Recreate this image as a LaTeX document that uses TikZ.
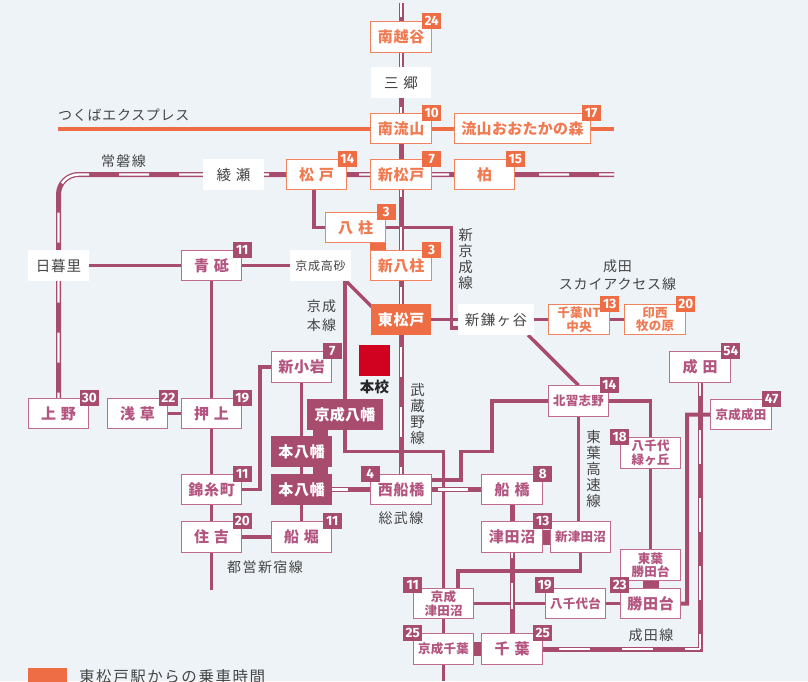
\documentclass[tikz,border=0pt]{standalone}
\usepackage{fontspec}
\setmainfont{Noto Sans CJK JP}
\newfontfamily\jpr[LetterSpace=6]{Noto Sans CJK JP}
\newfontfamily\jpl[LetterSpace=10]{Noto Sans CJK JP}
\newfontfamily\jpk[LetterSpace=5]{Noto Sans CJK JP}
\newfontfamily\jpb[LetterSpace=2]{Noto Sans CJK JP}
\newfontfamily\jpm[LetterSpace=5]{Noto Sans CJK JP}
\newfontfamily\numf{Fira Sans}
\definecolor{bgc}{HTML}{EEF3F8}
\definecolor{mag}{HTML}{A84C6E}
\definecolor{magb}{HTML}{BF6A8E}
\definecolor{magt}{HTML}{B35580}
\definecolor{org}{HTML}{EF6D45}
\definecolor{orgb}{HTML}{F2835F}
\definecolor{orgt}{HTML}{F07B52}
\definecolor{lab}{HTML}{454545}
\definecolor{school}{HTML}{D0021F}
\pgfdeclarelayer{bg}\pgfdeclarelayer{lines}
\pgfsetlayers{bg,lines,main}
\newcommand{\gp}{\hspace{5pt}}
\newcommand{\fs}[1]{\fontsize{#1}{#1}\selectfont}
\tikzset{
 x=1pt,y=-1pt,
 box/.style={rectangle,minimum width=60.5pt,minimum height=30.5pt,inner sep=0pt,line width=1pt,align=center},
 stO/.style={box,draw=orgb,fill=white,text=orgt,font=\jpm\bfseries\fs{15}},
 stM/.style={box,draw=magb,fill=white,text=magt,font=\jpm\bfseries\fs{15}},
 stW/.style={box,fill=white,text=lab,font=\jpr\fs{14.5}},
 smO/.style={stO,font=\jpb\bfseries\fontsize{12.5}{13.5}\selectfont},
 smM/.style={stM,font=\jpb\bfseries\fontsize{12.5}{13.5}\selectfont},
 filM/.style={box,fill=mag,text=white,font=\jpm\bfseries\fs{15}},
 filO/.style={box,fill=org,text=white,font=\jpm\bfseries\fs{15}},
 badgeO/.style={rectangle,fill=org,text=white,minimum width=19pt,minimum height=16pt,inner sep=0pt,font=\numf\bfseries\fs{13.5}},
 badgeM/.style={rectangle,fill=mag,text=white,minimum width=19pt,minimum height=16pt,inner sep=0pt,font=\numf\bfseries\fs{13.5}},
 lbl/.style={text=lab,inner sep=0pt,align=center,font=\jpl\fs{14}},
 thinl/.style={draw=mag,line width=3.5pt},
 txl/.style={draw=org,line width=4pt},
 base/.style={draw=mag,line width=5pt},
 wdash/.style={draw=white,line width=2.4pt},
 blockM/.style={draw=mag},
}
\begin{document}
\begin{tikzpicture}
\begin{pgfonlayer}{bg}
\fill[bgc] (0,0) rectangle (808,681);
\end{pgfonlayer}
\useasboundingbox (0,0) rectangle (808,681);

% stations
\node[stO] (minamikoshigaya) at (401,37) {南越谷};
\node[stW] (misato) at (401,82.5) {三\gp 郷};
\node[stO] (minaminagareyama) at (401,128.5) {南流山};
\node[stO,font=\jpb\bfseries\fs{15}] (otaka) at (522.5,128.5) [minimum width=136.5pt] {流山おおたかの森};
\node[stO] (shinmatsudo) at (401,174.5) {新松戸};
\node[stO] (matsudo) at (316.5,174.5) {松\gp 戸};
\node[stO] (kashiwa) at (484.5,174.5) {柏};
\node[stW] (ayase) at (233.5,174.5) {綾\gp 瀬};
\node[stO] (yabashira) at (355.5,227.5) {八\gp 柱};
\node[stO] (shinyahashira) at (401,265.5) {新八柱};
\node[filO] (higashimatsudo) at (401,319.5) {東松戸};
\node[stW,minimum width=76pt,font=\jpl\fs{14.5}] (shinkamagaya) at (496,319.5) {新鎌ヶ谷};
\node[smO] (chibant) at (579,319.5) {千葉NT\\中央};
\node[smO] (inzai) at (655,319.5) {印西\\牧の原};
\node[stW] (nippori) at (58.5,265.5) {日暮里};
\node[stM] (aoto) at (211.5,265.5) {青\gp 砥};
\node[stW,font=\jpr\fs{12}] (takasago) at (320.5,265.5) {京成高砂};
\node[stM] (ueno) at (58.5,413.5) {上\gp 野};
\node[stM] (asakusa) at (137.5,413.5) {浅\gp 草};
\node[stM] (oshiage) at (211.5,413.5) {押\gp 上};
\node[stM] (shinkoiwa) at (301.5,367) {新小岩};
\node[filM,minimum width=76pt,font=\jpb\bfseries\fs{15}] (keiseiyawata) at (345,414.5) {京成八幡};
\node[filM] (motoa) at (301.5,451.5) {本八幡};
\node[filM] (motob) at (301.5,489.5) {本八幡};
\node[stM] (kinshicho) at (211.5,489.5) {錦糸町};
\node[stM] (sumiyoshi) at (211.5,537) {住\gp 吉};
\node[stM] (funabori) at (301.5,537) {船\gp 堀};
\node[stM] (nishifunabashi) at (401,489.5) {西船橋};
\node[stM] (funabashi) at (512,489.5) {船\gp 橋};
\node[stM] (tsudanuma) at (512,537) {津田沼};
\node[smM] (shintsudanuma) at (580.5,537) {新津田沼};
\node[smM] (kitanarashino) at (578.5,401) {北習志野};
\node[smM] (midorigaoka) at (650.5,453) {八千代\\緑ヶ丘};
\node[smM] (toyokatsuta) at (650.5,565) {東葉\\勝田台};
\node[stM] (katsutadai) at (650.5,603.5) {勝田台};
\node[smM] (yachiyodai) at (575.5,603.5) {八千代台};
\node[smM] (ktsudanuma) at (443.5,603.5) {京成\\津田沼};
\node[smM] (kchiba) at (443.5,649) {京成千葉};
\node[stM] (chiba) at (512,649) {千\gp 葉};
\node[stM] (narita) at (700,367) {成\gp 田};
\node[smM] (knarita) at (741,414.5) {京成成田};

% badges
\node[badgeO] (b1) at (minamikoshigaya.north east) {24};
\node[badgeO] (b2) at (minaminagareyama.north east) {10};
\node[badgeO] (b3) at (otaka.north east) {17};
\node[badgeO] (b4) at (shinmatsudo.north east) {7};
\node[badgeO] (b5) at (matsudo.north east) {14};
\node[badgeO] (b6) at (kashiwa.north east) {15};
\node[badgeO] (b7) at (yabashira.north east) {3};
\node[badgeO] (b8) at (shinyahashira.north east) {3};
\node[badgeO] (b9) at (chibant.north east) {13};
\node[badgeO] (b10) at (inzai.north east) {20};
\node[badgeM] (b11) at (aoto.north east) {11};
\node[badgeM] (b12) at (ueno.north east) {30};
\node[badgeM] (b13) at (asakusa.north east) {22};
\node[badgeM] (b14) at (oshiage.north east) {19};
\node[badgeM] (b15) at (shinkoiwa.north east) {7};
\node[badgeM] (b16) at (kinshicho.north east) {11};
\node[badgeM] (b17) at (sumiyoshi.north east) {20};
\node[badgeM] (b18) at (funabori.north east) {11};
\node[badgeM] (b19) at (nishifunabashi.north west) {4};
\node[badgeM] (b20) at (funabashi.north east) {8};
\node[badgeM] (b21) at (tsudanuma.north east) {13};
\node[badgeM] (b22) at (kitanarashino.north east) {14};
\node[badgeM] (b23) at (midorigaoka.north west) {18};
\node[badgeM,yshift=3pt] (b24) at (katsutadai.north west) {23};
\node[badgeM,yshift=3pt] (b25) at (yachiyodai.north west) {19};
\node[badgeM,yshift=3pt] (b26) at (ktsudanuma.north west) {11};
\node[badgeM] (b27) at (kchiba.north west) {25};
\node[badgeM] (b28) at (chiba.north east) {25};
\node[badgeM] (b29) at (narita.north east) {54};
\node[badgeM] (b30) at (knarita.north east) {47};

% labels
\node[lbl,anchor=west,font=\jpk\fs{14}] (ltx) at (58,115) {つくばエクスプレス};
\node[lbl] (ljoban) at (123.5,161) {常磐線};
\node[lbl,font=\jpr\fontsize{14.5}{16}\selectfont] (lshinkeisei) at (465.5,259.5) {新\\京\\成\\線};
\node[lbl,font=\jpr\fontsize{14}{18.6}\selectfont] (lsky) at (617.5,275) {成田\\スカイアクセス線};
\node[lbl,font=\jpl\fontsize{14}{19}\selectfont] (lkeisei) at (321.5,316) {京成\\本線};
\node[lbl,font=\jpr\fontsize{14.5}{16}\selectfont] (lmusashino) at (417.5,414.5) {武\\蔵\\野\\線};
\node[lbl,font=\jpr\fontsize{14.5}{15.8}\selectfont] (ltoyo) at (593.5,469) {東\\葉\\高\\速\\線};
\node[lbl] (lnarita) at (651,635.5) {成田線};
\node[lbl] (lsobu) at (401,518) {総武線};
\node[lbl] (ltoei) at (265,567) {都営新宿線};
\node[rectangle,fill=school,minimum size=31pt,inner sep=0pt] (honkou) at (374.5,360.5) {};
\node[lbl,text=black!85,font=\jpb\bfseries\fs{14.5}] (lhonkou) at (374.5,387.5) {本校};
\node[rectangle,fill=org,minimum width=39pt,minimum height=26pt,inner sep=0pt] (legend) at (47.5,681) {};
\node[lbl,anchor=west,font=\jpl\fs{15.5}] (llegend) at (79,677) {東松戸駅からの乗車時間};

% connectors
\begin{pgfonlayer}{lines}
\coordinate (txW) at (58,128.5);
\coordinate (txE) at (614,128.5);
\draw[txl] (txW) -- (txE);
\draw[thinl] (nippori.center) -- (takasago.center);
\coordinate (toeiEnd) at (211.5,590);
\draw[thinl] (aoto.center) -- (toeiEnd);
\draw[thinl] (asakusa.east) -- (oshiage.west);
\coordinate (kinshiB) at (260,489.5);
\draw[thinl] (kinshicho.center) -- (kinshiB) |- (shinkoiwa.west);
\draw[thinl] (shinkoiwa.south) -- (funabori.north);
\draw[thinl] (sumiyoshi.east) -- (funabori.west);
% Keisei main line
\coordinate (kmA) at (345,281);
\coordinate (kmB) at (345,451.5);
\coordinate (kmC) at (443.5,451.5);
\coordinate (kmEnd) at (443.5,681);
\draw[thinl] (kmA) -- (kmB) -- (kmC) -- (kmEnd);
% Sky access
\coordinate (skyA) at (346,281);
\coordinate (skyB) at (372,307);
\draw[thinl] (skyA) -- (skyB);
\draw[thinl] (higashimatsudo.center) -- (inzai.center);
\coordinate (skyC) at (528,335);
\draw[thinl] (skyC) -- (kitanarashino.north);
% Shin-Keisei
\coordinate (skeiA) at (314,227.5);
\coordinate (skeiB) at (451.5,227.5);
\coordinate (skeiC) at (451.5,328);
\draw[thinl] (skeiA |- matsudo.south) -- (skeiA) -- (skeiB) -- (skeiC) -- (skeiC -| shinkamagaya.west);
% Kitanarashino branches
\coordinate (knA) at (461,480);
\coordinate (knB) at (461,451.7);
\coordinate (knC) at (492,451.7);
\coordinate (knD) at (492,401);
\draw[thinl] (nishifunabashi.center |- knA) -- (knA) -- (knB) -- (knC) -- (knD) -- (kitanarashino.center);
\coordinate (knE) at (650.5,401);
\draw[thinl] (kitanarashino.center) -- (knE) -- (toyokatsuta.center);
\draw[thinl] (kitanarashino.center) -- (shintsudanuma.north -| kitanarashino.center);
\coordinate (stA) at (580.5,571);
\coordinate (stB) at (458,571);
\draw[thinl] (shintsudanuma.center) -- (stA) -- (stB) -- (stB |- ktsudanuma.north);
\draw[thinl] (ktsudanuma.center) -- (katsutadai.center);
\coordinate (ktA) at (687,603.5);
\coordinate (ktB) at (687,414.7);
\draw[thinl,line width=4pt] (katsutadai.center) -- (ktA) -- (ktB) -- (knarita.west);
% blocks
\coordinate (oblock) at (378,227.5);
\draw[draw=org,line width=16pt] (oblock) -- (oblock |- shinyahashira.north);
\coordinate (mblock) at (320.5,414.5);
\draw[blockM,line width=15pt] (mblock) -- (mblock |- motob.center);
\draw[blockM,line width=15pt] (tsudanuma.center) -- (shintsudanuma.center);
\draw[blockM,line width=14pt] (kchiba.center) -- (chiba.center);
\draw[blockM,line width=16pt] (toyokatsuta.center) -- (katsutadai.center);
% Joban line
\coordinate (jobanE) at (614,174.5);
\draw[base,rounded corners=20pt] (jobanE) -| (ueno.north);
\draw[wdash,rounded corners=20pt,dash pattern=on 30pt off 30pt,dash phase=15pt] (jobanE) -| (ueno.north);
% Musashino line
\coordinate (musTop) at (401,3);
\draw[base] (musTop) -- (nishifunabashi.center);
\draw[wdash,dash pattern=on 30pt off 30pt,dash phase=16pt] (musTop) -- (nishifunabashi.center);
% Sobu line
\draw[base] (motob.center) -- (funabashi.center);
\draw[base] (funabashi.center) -- (chiba.center);
\draw[wdash,dash pattern=on 16pt off 100pt] (motob.east) -- (nishifunabashi.west);
\draw[wdash,dash pattern=on 30pt off 100pt,dash phase=124pt] (nishifunabashi.east) -- (funabashi.west);
\draw[wdash,dash pattern=on 5pt off 25pt on 26pt off 100pt] (tsudanuma.south) -- (chiba.north);
% Narita line
\coordinate (narCorner) at (700,649);
\draw[base,miter limit=10] (chiba.east) -- (narCorner) -- (narita.south);
\draw[wdash,dash pattern=on 31pt off 32pt,dash phase=16pt] (narCorner) -- (chiba.east);
\draw[wdash,dash pattern=on 34pt off 34pt,dash phase=19pt] (narCorner) -- (narita.south);
\end{pgfonlayer}
\end{tikzpicture}
\end{document}
